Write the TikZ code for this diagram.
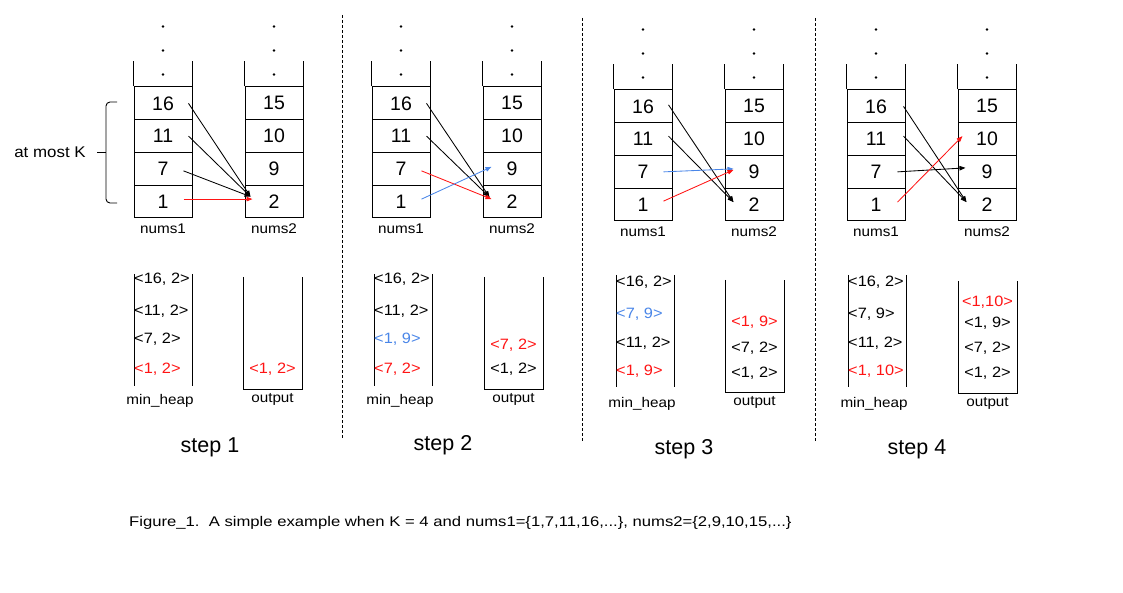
\documentclass[tikz,border=0pt]{standalone}
\usepackage{fontspec}
\setmainfont{Liberation Sans}
\newfontfamily\wfont[FakeStretch=1.09]{Liberation Sans}
\newfontfamily\cfont[FakeStretch=1.19]{Liberation Sans}
\usetikzlibrary{positioning,arrows.meta,calc}
\definecolor{hred}{RGB}{255,20,20}
\definecolor{hblue}{RGB}{74,134,232}
\tikzset{
  cell/.style={draw,line width=1pt,minimum width=58pt,minimum height=32.75pt,
    inner sep=0pt,font=\fontsize{19.5}{20}\selectfont},
  wall/.style={line width=1pt},
  lbl/.style={font=\wfont\fontsize{14}{14}\selectfont,inner sep=1pt},
  ent/.style={font=\wfont\fontsize{15}{15}\selectfont,inner sep=0pt},
  steplbl/.style={font=\fontsize{21.5}{22}\selectfont},
  arr/.style={-{Triangle[length=6pt,width=4.5pt]},line width=0.85pt},
  sep/.style={line width=0.9pt,dash pattern=on 3pt off 2pt},
}
\begin{document}
\begin{tikzpicture}[x=1pt,y=-1pt]
  \useasboundingbox (0,0) rectangle (1123,593);
  % nums1 / nums2 stacks of every step
  \foreach \s/\ox/\oy in {1/134/87,2/372/87,3/614/90,4/847/90}{
    \foreach \v [count=\k from 0] in {16,11,7,1}
      \node[cell] (n\s-\v) at (\ox+29,\oy+16.375+\k*32.75) {\v};
    \foreach \v [count=\k from 0] in {15,10,9,2}
      \node[cell] (m\s-\v) at (\ox+140,\oy+16.375+\k*32.75) {\v};
    \draw[wall] (n\s-16.north west) -- ++(0,-25);
    \draw[wall] (n\s-16.north east) -- ++(0,-25);
    \draw[wall] (m\s-15.north west) -- ++(0,-25);
    \draw[wall] (m\s-15.north east) -- ++(0,-25);
    \foreach \d in {12,36,60}{
      \fill ($(n\s-16.north)+(0,-\d)$) circle (1.3pt);
      \fill ($(m\s-15.north)+(0,-\d)$) circle (1.3pt);
    }
    \node[lbl,below=4pt of n\s-1] (l\s-a) {nums1};
    \node[lbl,below=4pt of m\s-2] (l\s-b) {nums2};
  }
  % min_heap and output containers
  \foreach \s/\hx/\hy/\px/\py/\hl in {1/134/274/243/277/127,2/374/274/484/277/127,
      3/616/275/725/280/129,4/848/275/958/281/129}{
    \coordinate (hp\s) at (\hx,\hy);
    \coordinate (op\s) at (\px+29.5,\py);
    \draw[wall] (\hx,\hy) -- (\hx,\hy+112);
    \draw[wall] (\hx+58,\hy) -- (\hx+58,\hy+112);
    \draw[wall] (\px,\py) -- (\px,\py+112) -- (\px+59,\py+112) -- (\px+59,\py);
    \node[lbl] (hl\s) at (\hx+26,\hy+\hl) {min\_heap};
    \node[lbl] (ol\s) at (\px+29.5,\py+122) {output};
  }
  % heap entries
  \foreach \s/\dy/\col/\txt in {1/5/black/{<16, 2>},1/37/black/{<11, 2>},1/65/black/{<7, 2>},1/95/hred/{<1, 2>},
      2/5/black/{<16, 2>},2/37/black/{<11, 2>},2/65/hblue/{<1, 9>},2/95/hred/{<7, 2>},
      3/7/black/{<16, 2>},3/39/hblue/{<7, 9>},3/68/black/{<11, 2>},3/96/hred/{<1, 9>},
      4/7/black/{<16, 2>},4/39/black/{<7, 9>},4/68/black/{<11, 2>},4/96/hred/{<1, 10>}}
    \node[ent,anchor=west,text=\col] (he\s-\dy) at ($(hp\s)+(0,\dy)$) {\txt};
  % output entries
  \foreach \s/\dy/\col/\txt in {1/92/hred/{<1, 2>},
      2/68/hred/{<7, 2>},2/92/black/{<1, 2>},
      3/42/hred/{<1, 9>},3/68/black/{<7, 2>},3/93/black/{<1, 2>},
      4/21/hred/{<1,10>},4/42/black/{<1, 9>},4/67/black/{<7, 2>},4/92/black/{<1, 2>}}
    \node[ent,text=\col] (oe\s-\dy) at ($(op\s)+(0,\dy)$) {\txt};
  % step 1
  \draw[arr] ([xshift=-4pt]n1-16.east) -- ([xshift=6pt,yshift=5pt]m1-2.west);
  \draw[arr] ([xshift=-4pt]n1-11.east) -- ([xshift=6pt,yshift=5pt]m1-2.west);
  \draw[arr] ([xshift=-9pt,yshift=-2pt]n1-7.east) -- ([xshift=6pt,yshift=5pt]m1-2.west);
  \draw[arr,hred] ([xshift=-9pt,yshift=2.5pt]n1-1.east) -- ([xshift=8pt,yshift=2.5pt]m1-2.west);
  % step 2
  \draw[arr] ([xshift=-4pt]n2-16.east) -- ([xshift=7pt,yshift=4.5pt]m2-2.west);
  \draw[arr] ([xshift=-4pt]n2-11.east) -- ([xshift=7pt,yshift=4.5pt]m2-2.west);
  \draw[arr,hred] ([xshift=-9pt,yshift=-2pt]n2-7.east) -- ([xshift=9pt,yshift=2.5pt]m2-2.west);
  \draw[arr,hblue] ([xshift=-9pt,yshift=2.5pt]n2-1.east) -- ([xshift=9pt,yshift=2pt]m2-9.west);
  % step 3
  \draw[arr] ([xshift=-4pt,yshift=1.5pt]n3-16.east) -- ([xshift=9pt,yshift=2.5pt]m3-2.west);
  \draw[arr] ([xshift=-4pt,yshift=3pt]n3-11.east) -- ([xshift=9pt,yshift=2.5pt]m3-2.west);
  \draw[arr,hblue] ([xshift=-9pt]n3-7.east) -- ([xshift=9pt,yshift=3pt]m3-9.west);
  \draw[arr,hred] ([xshift=-9pt,yshift=3.5pt]n3-1.east) -- ([xshift=9pt,yshift=2pt]m3-9.west);
  % step 4
  \draw[arr] ([xshift=-2pt]n4-16.east) -- ([xshift=9pt,yshift=2.5pt]m4-2.west);
  \draw[arr] ([xshift=-2pt,yshift=3pt]n4-11.east) -- ([xshift=9pt,yshift=2.5pt]m4-2.west);
  \draw[arr] ([xshift=-8pt]n4-7.east) -- ([xshift=8pt,yshift=4pt]m4-9.west);
  \draw[arr,hred] ([xshift=-8pt,yshift=2.5pt]n4-1.east) -- ([xshift=5pt,yshift=3pt]m4-10.west);
  % brace for the first K
  \node[font=\wfont\fontsize{15.5}{16}\selectfont] (atk) at (50,152) {at most K};
  \draw[line width=0.9pt,rounded corners=4pt] (117,102) -| (106,152) |- (117,203);
  \draw[line width=0.9pt] ([xshift=8pt]atk.east) -- (106,152);
  % separators
  \draw[sep] (342,15) -- (342,438);
  \draw[sep] (582,18) -- (582,441);
  \draw[sep] (815,18) -- (815,441);
  % step titles and caption
  \node[steplbl] (st1) at (210,447) {step 1};
  \node[steplbl] (st2) at (443,445) {step 2};
  \node[steplbl] (st3) at (684,449) {step 3};
  \node[steplbl] (st4) at (917,449) {step 4};
  \node[font=\cfont\fontsize{14}{15}\selectfont,anchor=west,inner sep=0pt] (cap) at (129,523)
    {Figure\_1.\ \ A simple example when K = 4 and nums1=\{1,7,11,16,...\}, nums2=\{2,9,10,15,...\}};
\end{tikzpicture}
\end{document}
